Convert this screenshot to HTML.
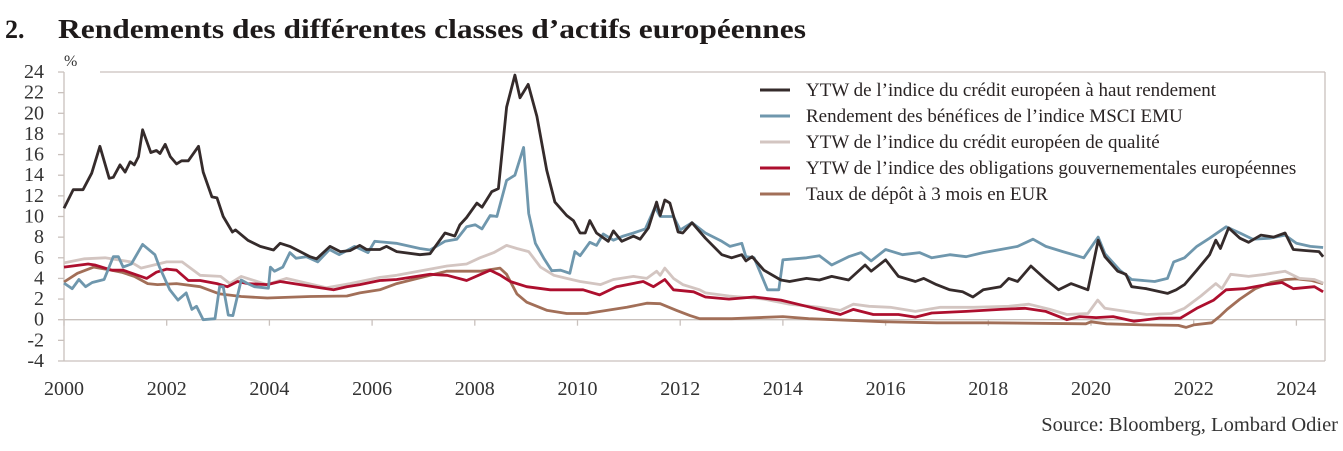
<!DOCTYPE html>
<html><head><meta charset="utf-8">
<style>
html,body{margin:0;padding:0;background:#fff;}
svg{display:block;font-family:"Liberation Serif",serif;}
</style></head>
<body>
<svg id="chart" width="1343" height="451" viewBox="0 0 1343 451" xmlns="http://www.w3.org/2000/svg">
<text x="5" y="38" font-size="26" font-weight="bold" fill="#1e1a1a">2.</text>
<text x="58" y="38" font-size="27" font-weight="bold" fill="#1e1a1a" textLength="748" lengthAdjust="spacingAndGlyphs">Rendements des différentes classes d’actifs européennes</text>
<text x="64" y="66" font-size="16" fill="#333">%</text>
<g id="frame" stroke="#c9c1bd" stroke-width="1.3" fill="none">
<line x1="100" y1="72" x2="1325" y2="72"/>
<line x1="1325" y1="72" x2="1325" y2="361"/>
<line x1="64" y1="361" x2="1325" y2="361"/>
<line x1="64" y1="72" x2="64" y2="361"/>
</g>
<g id="axes"></g>
<g id="series"></g>
<g id="legend"></g>
<text x="1338" y="431" font-size="20.5" fill="#333" text-anchor="end">Source: Bloomberg, Lombard Odier</text>
</svg>
<script>
const yTicks=[-4,-2,0,2,4,6,8,10,12,14,16,18,20,22,24];
const xTicks=[2000,2002,2004,2006,2008,2010,2012,2014,2016,2018,2020,2022,2024];
const seriesNames=["YTW de l’indice du crédit européen à haut rendement","Rendement des bénéfices de l’indice MSCI EMU","YTW de l’indice du crédit européen de qualité","YTW de l’indice des obligations gouvernementales européennes","Taux de dépôt à 3 mois en EUR"];

const hyDates=[2000,2000.18,2000.37,2000.54,2000.7,2000.88,2000.96,2001.09,2001.19,2001.29,2001.37,2001.45,2001.53,2001.69,2001.8,2001.87,2001.97,2002.07,2002.19,2002.29,2002.42,2002.62,2002.71,2002.88,2002.98,2003.1,2003.28,2003.34,2003.58,2003.82,2004.08,2004.21,2004.4,2004.6,2004.79,2004.92,2005.18,2005.38,2005.57,2005.76,2005.89,2006.15,2006.28,2006.48,2006.93,2007.13,2007.42,2007.61,2007.71,2007.84,2008.04,2008.14,2008.33,2008.46,2008.62,2008.78,2008.88,2009.04,2009.21,2009.4,2009.56,2009.79,2009.92,2010.05,2010.15,2010.24,2010.37,2010.6,2010.7,2010.86,2011.09,2011.22,2011.38,2011.54,2011.61,2011.7,2011.8,2011.96,2012.05,2012.23,2012.49,2012.81,2013,2013.2,2013.28,2013.4,2013.63,2013.96,2014.13,2014.46,2014.71,2014.95,2015.28,2015.6,2015.72,2016,2016.25,2016.58,2016.74,2016.99,2017.25,2017.5,2017.7,2017.9,2018.24,2018.4,2018.57,2018.83,2019.12,2019.37,2019.61,2019.94,2020.14,2020.27,2020.52,2020.68,2020.79,2021.08,2021.49,2021.66,2021.82,2022.06,2022.31,2022.43,2022.52,2022.68,2022.9,2023.07,2023.31,2023.56,2023.78,2023.94,2024.19,2024.44,2024.52];
const hyValues=[10.8,12.6,12.6,14.2,16.8,13.7,13.8,15.0,14.3,15.3,15.0,15.8,18.4,16.2,16.4,16.1,17.0,15.8,15.1,15.4,15.4,16.8,14.3,11.9,11.8,10.0,8.5,8.7,7.7,7.1,6.75,7.4,7.1,6.6,6.1,5.9,7.1,6.6,6.7,7.2,6.8,6.8,7.1,6.6,6.3,6.4,8.4,8.1,9.2,9.9,11.3,10.9,12.4,12.7,20.6,23.7,21.5,22.8,19.7,14.5,11.4,10.1,9.6,8.4,8.4,9.6,8.4,7.6,8.6,7.6,8.1,7.8,8.9,11.4,10.1,11.6,11.3,8.5,8.4,9.4,7.9,6.3,6.0,6.3,5.7,6.1,4.8,3.85,3.7,4.0,3.85,4.2,3.85,5.3,4.7,5.8,4.2,3.7,4.0,3.4,2.9,2.7,2.2,2.9,3.2,4.0,3.7,5.2,3.9,2.9,3.5,2.9,7.7,6.1,4.7,4.4,3.2,3.0,2.55,2.9,3.4,4.8,6.3,7.7,6.9,8.9,7.9,7.5,8.2,8.0,8.4,6.8,6.7,6.6,6.1];

const msciDates=[2000,2000.16,2000.29,2000.42,2000.55,2000.78,2000.96,2001.06,2001.15,2001.31,2001.53,2001.77,2001.86,2002.06,2002.22,2002.38,2002.49,2002.58,2002.71,2002.94,2003.03,2003.1,2003.2,2003.29,2003.45,2003.58,2003.71,2003.98,2004.02,2004.1,2004.26,2004.4,2004.52,2004.72,2004.94,2005.17,2005.36,2005.66,2005.92,2006.05,2006.47,2006.93,2007.13,2007.42,2007.65,2007.84,2008.01,2008.14,2008.3,2008.43,2008.62,2008.78,2008.95,2009.05,2009.18,2009.35,2009.5,2009.67,2009.85,2009.95,2010.05,2010.24,2010.37,2010.5,2010.7,2010.89,2011.09,2011.32,2011.51,2011.61,2011.87,2012,2012.23,2012.49,2012.81,2012.97,2013.2,2013.28,2013.44,2013.7,2013.92,2014,2014.46,2014.71,2014.95,2015.28,2015.52,2015.72,2016,2016.33,2016.66,2016.9,2017.25,2017.57,2017.9,2018.24,2018.57,2018.87,2019.12,2019.45,2019.86,2020.14,2020.27,2020.56,2020.79,2021.24,2021.49,2021.61,2021.82,2022.06,2022.31,2022.63,2022.9,2023.15,2023.48,2023.78,2024,2024.27,2024.52];
const msciValues=[3.55,3.0,3.9,3.2,3.6,3.9,6.1,6.1,5.1,5.4,7.3,6.3,5.1,2.9,1.9,2.6,1.0,1.3,0.0,0.1,3.2,3.2,0.45,0.4,3.85,3.5,3.2,3.05,5.1,4.7,5.1,6.5,5.95,6.1,5.6,6.8,6.3,7.1,6.5,7.6,7.4,6.9,6.75,7.6,7.8,9.0,9.2,8.8,10.1,10.0,13.5,14.0,16.7,10.3,7.4,5.9,4.75,4.8,4.5,6.6,6.2,7.5,7.2,8.3,7.7,8.1,8.4,8.8,10.9,10.0,10.0,8.7,9.4,8.4,7.6,7.1,7.4,6.1,6.0,2.9,2.9,5.8,6.0,6.2,5.3,6.1,6.5,5.7,6.8,6.3,6.5,6.0,6.3,6.1,6.5,6.8,7.1,7.8,7.1,6.6,6.0,8.0,6.4,4.8,3.9,3.7,4.0,5.6,6.0,7.1,7.9,9.0,8.4,7.8,7.9,8.2,7.4,7.1,7.0];

const igDates=[2000,2000.4,2000.8,2001.3,2001.5,2002,2002.3,2002.65,2003.05,2003.23,2003.45,2003.95,2004.33,2004.85,2005.11,2005.57,2006.15,2006.48,2007.13,2007.46,2007.84,2008.1,2008.37,2008.62,2008.82,2009.05,2009.28,2009.54,2009.79,2010.05,2010.45,2010.7,2011.09,2011.35,2011.54,2011.61,2011.7,2011.87,2012.05,2012.38,2012.49,2012.95,2013.63,2014.13,2014.71,2015.12,2015.37,2015.68,2016.09,2016.58,2017.07,2017.72,2018.4,2018.79,2019.2,2019.53,2019.94,2020.13,2020.27,2020.68,2021.08,2021.57,2021.82,2022.14,2022.43,2022.55,2022.72,2023.07,2023.4,2023.78,2024.06,2024.35,2024.52];
const igValues=[5.5,5.9,6.0,5.6,5.0,5.6,5.6,4.3,4.2,3.5,4.2,3.4,4.0,3.4,3.1,3.5,4.1,4.3,4.9,5.2,5.4,6.0,6.5,7.2,6.9,6.6,5.1,4.3,4.0,3.7,3.4,3.9,4.2,4.0,4.7,4.3,5.0,4.0,3.4,2.9,2.6,2.3,2.0,1.5,1.2,0.9,1.5,1.3,1.2,0.8,1.2,1.2,1.3,1.5,1.0,0.5,0.6,1.9,1.1,0.8,0.5,0.6,1.1,2.3,3.5,3.0,4.4,4.2,4.4,4.7,4.0,3.9,3.55];

const govDates=[2000,2000.47,2000.6,2000.93,2001.15,2001.61,2001.8,2002,2002.19,2002.42,2002.65,2002.98,2003.18,2003.38,2003.58,2003.96,2004.21,2004.6,2004.99,2005.25,2005.51,2005.76,2006.15,2006.48,2007.13,2007.46,2007.84,2008.3,2008.5,2008.69,2009.01,2009.47,2009.79,2010.11,2010.43,2010.76,2011.28,2011.48,2011.7,2011.87,2012.26,2012.49,2012.95,2013.44,2013.96,2014.46,2014.87,2015.12,2015.37,2015.76,2016.25,2016.58,2016.9,2017.57,2018.24,2018.71,2019.12,2019.53,2019.78,2020.1,2020.43,2020.84,2021.33,2021.74,2022.06,2022.39,2022.63,2022.98,2023.31,2023.72,2023.94,2024.35,2024.52];
const govValues=[5.1,5.4,5.3,4.8,4.8,4.0,4.6,4.9,4.8,3.8,3.8,3.5,3.2,3.7,3.5,3.4,3.7,3.4,3.1,2.9,3.2,3.4,3.8,3.9,4.4,4.3,3.8,4.8,4.3,3.7,3.2,2.9,2.9,2.9,2.4,3.2,3.7,3.2,3.9,2.9,2.7,2.2,2.0,2.2,1.9,1.3,0.8,0.5,1.0,0.5,0.5,0.25,0.65,0.8,1.0,1.1,0.8,0.0,0.3,0.2,0.3,-0.15,0.15,0.15,1.1,1.9,2.9,3.0,3.3,3.6,3.0,3.2,2.7];

const depDates=[2000,2000.26,2000.58,2000.93,2001.12,2001.37,2001.63,2001.82,2002.19,2002.65,2003.03,2003.45,2003.96,2004.79,2005.51,2005.76,2006.15,2006.48,2007.45,2007.84,2008.1,2008.49,2008.62,2008.82,2009.01,2009.41,2009.79,2010.18,2010.57,2010.96,2011.35,2011.61,2011.93,2012.19,2012.38,2013,2014,2014.5,2015,2016,2017,2018,2019,2019.9,2020,2020.3,2021,2021.7,2021.85,2022,2022.35,2022.5,2022.65,2022.9,2023.2,2023.5,2023.8,2024,2024.3,2024.52];
const depValues=[3.65,4.5,5.1,4.8,4.6,4.2,3.5,3.4,3.5,3.2,2.5,2.25,2.1,2.25,2.3,2.6,2.9,3.5,4.7,4.7,4.7,5.0,4.4,2.5,1.7,0.9,0.6,0.6,0.9,1.2,1.6,1.55,0.9,0.4,0.1,0.1,0.3,0.1,0.0,-0.2,-0.3,-0.3,-0.35,-0.4,-0.2,-0.4,-0.5,-0.55,-0.75,-0.5,-0.3,0.3,1.0,2.0,3.0,3.6,3.9,3.95,3.8,3.5];

const colors=["#352b2b","#6f97ad","#d3c5c1","#ad0f2e","#a26f58"];
const NS="http://www.w3.org/2000/svg";
const x0=64,pxPerYear=51.35,y0=319.7,pxPerUnit=10.32;
function xScale(t){return x0+(t-2000)*pxPerYear;}
function yScale(v){return y0-v*pxPerUnit;}
function mk(tag,attrs,parent){const e=document.createElementNS(NS,tag);for(const k in attrs)e.setAttribute(k,attrs[k]);parent.appendChild(e);return e;}

const axes=document.getElementById('axes');
const zl=mk('line',{x1:64,x2:1325,y1:yScale(0),y2:yScale(0),stroke:'#c9c1bd','stroke-width':1.3},axes);


yTicks.forEach(v=>{
  const tk=mk('line',{x1:58,x2:64,y1:yScale(v),y2:yScale(v),stroke:'#c9c1bd','stroke-width':1.3},axes);
  
  
  const t=mk('text',{x:44,y:yScale(v)+6,'font-size':20,fill:'#333','text-anchor':'end'},axes);
  t.textContent=v;
  
  
});
xTicks.forEach(yr=>{
  const tk=mk('line',{x1:xScale(yr),x2:xScale(yr),y1:yScale(0),y2:yScale(0)+6,stroke:'#c9c1bd','stroke-width':1.3},axes);
  
  
  const t=mk('text',{x:xScale(yr),y:395,'font-size':20,fill:'#333','text-anchor':'middle'},axes);
  t.textContent=yr;
  
  
});

const allDates=[hyDates,msciDates,igDates,govDates,depDates];
const allValues=[hyValues,msciValues,igValues,govValues,depValues];
const order=[4,2,3,1,0];
const seriesKeys=["high-yield-line","msci-emu-line","investment-grade-line","government-bond-line","deposit-rate-line"];
const sg=document.getElementById('series');
order.forEach(i=>{
  const d=allDates[i].map((t,j)=>(j?'L':'M')+xScale(t).toFixed(1)+','+yScale(allValues[i][j]).toFixed(1)).join(' ');
  const p=mk('path',{d:d,fill:'none',stroke:colors[i],'stroke-width':2.8,'stroke-linejoin':'round'},sg);
  
  
});

const lg=document.getElementById('legend');
const legendY=[90,116,142,168,194];
seriesNames.forEach((n,i)=>{
  const l=mk('line',{x1:760,x2:790,y1:legendY[i],y2:legendY[i],stroke:colors[i],'stroke-width':3},lg);
  
  
  const t=mk('text',{x:806,y:legendY[i]+6,'font-size':19,fill:'#2a2424'},lg);
  t.textContent=n;
  
  
});
</script>
</body></html>
